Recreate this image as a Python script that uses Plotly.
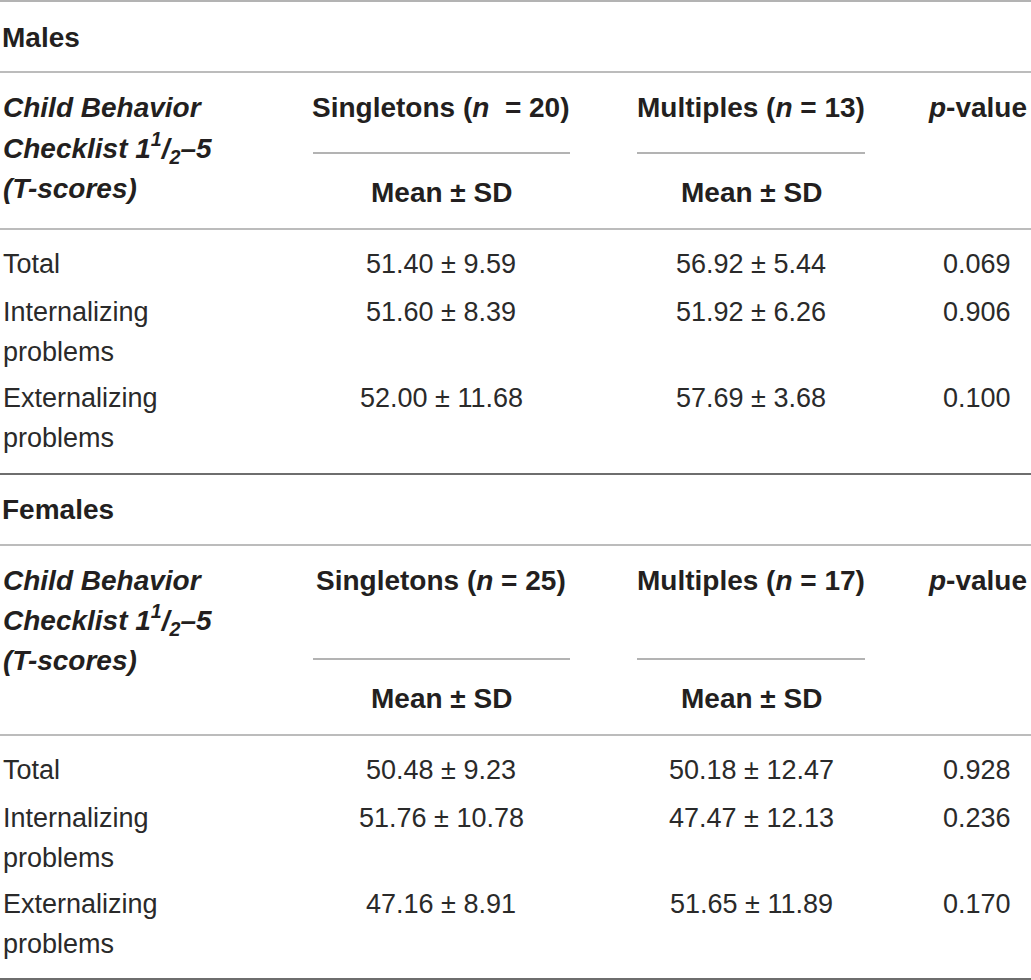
import plotly.graph_objects as go

# table content
groups = ["Males", "Females"]
measures = [["Total"], ["Internalizing", "problems"], ["Externalizing", "problems"]]
singleton_n = [20, 25]
multiple_n = [13, 17]
singleton_vals = [["51.40 ± 9.59", "51.60 ± 8.39", "52.00 ± 11.68"],
                  ["50.48 ± 9.23", "51.76 ± 10.78", "47.16 ± 8.91"]]
multiple_vals = [["56.92 ± 5.44", "51.92 ± 6.26", "57.69 ± 3.68"],
                 ["50.18 ± 12.47", "47.47 ± 12.13", "51.65 ± 11.89"]]
p_values = [["0.069", "0.906", "0.100"],
            ["0.928", "0.236", "0.170"]]
first_col_header = ["<i>Child Behavior</i>", "<i>Checklist 1<sup>1</sup>/<sub>2</sub>–5</i>", "<i>(T-scores)</i>"]

# layout (pixel positions, y grows downward)
W, H = 1031, 980
TXT = "#231f20"
BODY_TXT = "#2a2a2a"
FONT = "Liberation Sans"
FS_BODY = 27
FS_HEAD = 28
col_x = {"label": 1, "single": 441, "multi": 751, "p": 977}
panels = [
    dict(title=37, top=72, hdr=[107, 148, 188], under=153, mean=192, mid=229,
         rows=[[264], [312, 352], [398, 438]], bottom=474),
    dict(title=509, top=545, hdr=[580, 620, 660], under=659, mean=698, mid=735,
         rows=[[770], [818, 858], [904, 944]], bottom=979),
]
under_x = {"single": (313, 570), "multi": (637, 865)}

fig = go.Figure()
ann = []
shapes = []


def text(x, y, s, anchor="center", bold=False):
    if bold:
        s = "<b>" + s + "</b>"
    ann.append(dict(x=x, y=y, xref="x", yref="y", text=s, showarrow=False,
                    xanchor=anchor, yanchor="middle",
                    font=dict(family=FONT, size=FS_HEAD if bold else FS_BODY,
                              color=TXT if bold else BODY_TXT)))


def hline(y, x0=0, x1=W, color="#a6a6a6", width=1.5):
    shapes.append(dict(type="line", xref="x", yref="y", x0=x0, x1=x1, y0=y, y1=y,
                       line=dict(color=color, width=width)))


hline(1, color="#b3b3b3", width=2)
for g, p in enumerate(panels):
    text(0, p["title"], groups[g], anchor="left", bold=True)
    hline(p["top"])
    for line, y in zip(first_col_header, p["hdr"]):
        text(col_x["label"], y, line, anchor="left", bold=True)
    sp = "\u00a0\u00a0" if g == 0 else " "
    text(col_x["single"], p["hdr"][0], "Singletons (<i>n</i>" + sp + "= %d)" % singleton_n[g], bold=True)
    text(col_x["multi"], p["hdr"][0], "Multiples (<i>n</i> = %d)" % multiple_n[g], bold=True)
    text(col_x["p"], p["hdr"][0], "<i>p</i>-value", bold=True)
    for k in ("single", "multi"):
        hline(p["under"], under_x[k][0], under_x[k][1], color="#9a9a9a", width=1.5)
        text(col_x[k], p["mean"], "Mean ± SD", bold=True)
    hline(p["mid"])
    for i, ys in enumerate(p["rows"]):
        for part, y in zip(measures[i], ys):
            text(col_x["label"], y, part, anchor="left")
        text(col_x["single"], ys[0], singleton_vals[g][i])
        text(col_x["multi"], ys[0], multiple_vals[g][i])
        text(col_x["p"], ys[0], p_values[g][i])
    hline(p["bottom"], color="#6e6e6e", width=2)

fig.update_layout(
    width=W, height=H,
    margin=dict(l=0, r=0, t=0, b=0),
    paper_bgcolor="white", plot_bgcolor="white",
    xaxis=dict(range=[0, W], visible=False, fixedrange=True),
    yaxis=dict(range=[H, 0], visible=False, fixedrange=True),
    annotations=ann, shapes=shapes, showlegend=False,
)
# drop the page's default body margin so the table sits at the window corner
fig.write_html("out.html", config={"displayModeBar": False},
               post_script="document.body.style.margin='0';")
